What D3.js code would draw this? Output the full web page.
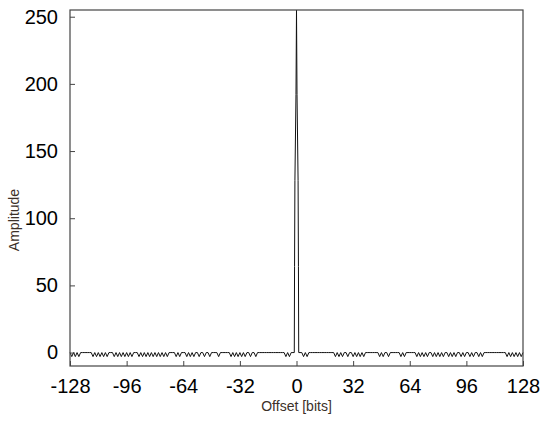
<!DOCTYPE html>
<html>
<head>
<meta charset="utf-8">
<script src="https://cdn.jsdelivr.net/npm/d3@7"></script>
<style>
  body { margin: 0; background: #fff; }
  svg { display: block; font-family: "Liberation Sans", Arial, sans-serif; }
</style>
</head>
<body>
<svg id="chart"></svg>
<script>
// tick labels
var xTicks = [-128, -96, -64, -32, 0, 32, 64, 96, 128];
var yTicks = [0, 50, 100, 150, 200, 250];

// correlation: integer offsets -128..-2
var leftAmp = [
  0,-3,0,-3,0,-3,0,0,   0,0,0,0,0,-3,0,-3,   0,-3,0,-3,0,-3,0,0,   0,-3,0,-3,0,-3,0,-3,
  0,-3,0,-3,0,0,0,-3,   0,-3,0,-3,0,-3,0,-3, 0,-3,0,-3,0,-3,0,-3,  0,0,0,0,-3,0,-3,0,
  0,0,-3,0,-3,0,-3,0,   0,-3,0,0,-3,0,0,-3,  0,0,0,0,-3,0,0,0,     0,0,0,-3,0,-3,0,-3,
  0,-3,0,-3,0,0,-3,0,   0,-3,0,0,0,0,0,0,    0,0,0,0,0,0,0,0,      0,0,-3,0,-3,0,0
];
// main peak (sub-bit steps)
var peakOffsets = [-1.25, -1.1, -0.9, -0.3, 0, 0.3, 0.9, 1.1, 1.25];
var peakAmp     = [0, 64, 128, 192, 255, 192, 128, 64, 0];
// integer offsets 2..128
var rightAmp = [
  0,0,-3,0,-3,0,0,0,    0,0,0,0,0,0,0,0,     0,0,0,0,-3,0,-3,0,    -3,0,0,-3,0,0,-3,0,
  -3,0,-3,0,-3,0,0,0,   0,0,0,0,0,-3,0,-3,   0,0,-3,0,0,0,0,0,     0,-3,0,-3,0,0,0,0,
  0,0,-3,0,-3,0,-3,0,   -3,0,0,-3,0,-3,0,-3, 0,-3,0,0,-3,0,-3,0,   -3,0,0,-3,0,-3,0,0,
  -3,0,-3,0,0,-3,0,-3,  0,0,0,0,0,0,0,0,     0,0,0,0,0,-3,0,-3,    0,-3,0,-3,0,-3,0
];

var W = 550, H = 421;
var margin = {top: 10, right: 27, bottom: 55, left: 70};
var width = W - margin.left - margin.right,
    height = H - margin.top - margin.bottom;

var svg = d3.select("#chart")
    .attr("width", W)
    .attr("height", H);

var g = svg.append("g")
    .attr("transform", "translate(" + margin.left + "," + margin.top + ")");

var x = d3.scaleLinear().domain([-128, 128]).range([0, width]);
var y = d3.scaleLinear().domain([-10, 255]).range([height, 0]);

// put the series together
var points = [];
d3.range(-128, -1).forEach(function (k, i) { points.push([k, leftAmp[i]]); });
peakOffsets.forEach(function (k, i) { points.push([k, peakAmp[i]]); });
d3.range(2, 129).forEach(function (k, i) { points.push([k, rightAmp[i]]); });

var line = d3.line()
    .x(function (d) { return x(d[0]); })
    .y(function (d) { return y(d[1]); });

g.append("path")
    .datum(points)
    .attr("fill", "none")
    .attr("stroke", "#111")
    .attr("stroke-width", 1)
    .attr("d", line);

// axes, ticks inside like matlab; plain hyphen for negatives
var fmt = function (d) { return String(d); };
var xAxis = g.append("g")
    .attr("transform", "translate(0," + height + ")")
    .call(d3.axisBottom(x).tickValues(xTicks).tickFormat(fmt).tickSizeInner(-5).tickSizeOuter(0).tickPadding(13));
var yAxis = g.append("g")
    .call(d3.axisLeft(y).tickValues(yTicks).tickFormat(fmt).tickSizeInner(-5).tickSizeOuter(0).tickPadding(12));

[xAxis, yAxis].forEach(function (a) {
    a.select(".domain").remove();
    a.selectAll("line").attr("stroke", "#444");
    a.selectAll("text")
        .attr("fill", "#000")
        .style("font-size", "20px")
        .style("font-family", "'Liberation Sans', Arial, sans-serif");
});

// box
g.append("rect")
    .attr("x", 0).attr("y", 0)
    .attr("width", width).attr("height", height)
    .attr("fill", "none")
    .attr("stroke", "#444")
    .attr("stroke-width", 1.2);

// axis titles
svg.append("text")
    .attr("x", margin.left + width / 2)
    .attr("y", 411)
    .attr("text-anchor", "middle")
    .attr("fill", "#3b3028")
    .style("font-size", "14px")
    .text("Offset [bits]");

svg.append("text")
    .attr("transform", "translate(19," + (margin.top + height / 2 + 32) + ") rotate(-90)")
    .attr("text-anchor", "middle")
    .attr("fill", "#3b3028")
    .style("font-size", "14px")
    .text("Amplitude");
</script>
</body>
</html>
